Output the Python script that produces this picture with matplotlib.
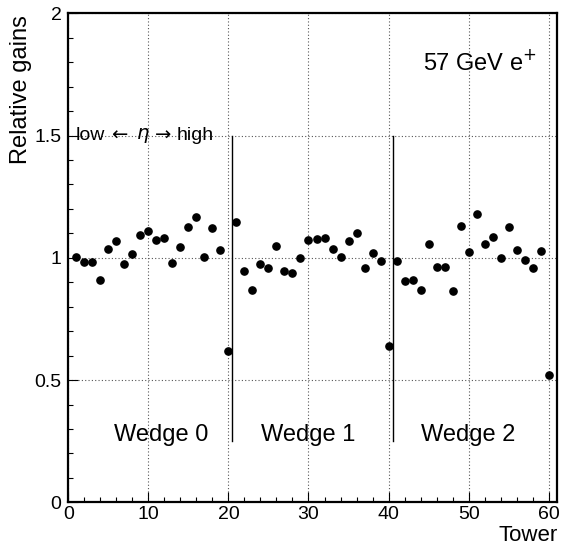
import matplotlib
matplotlib.use("Agg")
import matplotlib.pyplot as plt
from matplotlib.ticker import MultipleLocator

plt.rcParams['font.family'] = ['Liberation Sans', 'DejaVu Sans']

towers = list(range(1, 61))
gains = [
    1.004, 0.984, 0.984, 0.910, 1.037, 1.070, 0.973, 1.016, 1.092, 1.108,
    1.073, 1.082, 0.979, 1.044, 1.127, 1.166, 1.004, 1.121, 1.033, 0.619,
    1.147, 0.948, 0.870, 0.975, 0.959, 1.049, 0.948, 0.937, 1.000, 1.074,
    1.078, 1.082, 1.034, 1.003, 1.067, 1.100, 0.959, 1.021, 0.989, 0.640,
    0.985, 0.905, 0.908, 0.867, 1.058, 0.963, 0.963, 0.864, 1.130, 1.022,
    1.179, 1.055, 1.084, 1.001, 1.126, 1.030, 0.993, 0.958, 1.026, 0.521,
]
separators = [20.5, 40.5]
wedge_labels = ["Wedge 0", "Wedge 1", "Wedge 2"]
wedge_x = [11.6, 30.0, 49.9]

fig = plt.figure(figsize=(5.67, 5.45), dpi=100)
ax = fig.add_axes([0.1205, 0.0783, 0.8613, 0.8973])

ax.plot(towers, gains, 'o', color='black', markersize=5.2, zorder=3)

ax.set_xlim(0, 61)
ax.set_ylim(0, 2)
ax.xaxis.set_major_locator(MultipleLocator(10))
ax.xaxis.set_minor_locator(MultipleLocator(2))
ax.yaxis.set_minor_locator(MultipleLocator(0.1))
ax.set_yticks([0, 0.5, 1, 1.5, 2])
ax.set_yticklabels(['0', '0.5', '1', '1.5', '2'])
ax.tick_params(which='both', direction='in', top=False, right=False, labelsize=14)
ax.tick_params(axis='x', which='major', pad=3)
ax.tick_params(axis='y', which='major', pad=5)
ax.tick_params(which='major', length=7, width=0.8)
ax.tick_params(which='minor', length=3.5, width=0.8)
ax.grid(True, which='major', linestyle=(0, (1, 2)), color='#555555', linewidth=0.8)
for s in ax.spines.values():
    s.set_linewidth(1.6)

for s in separators:
    ax.plot([s, s], [0.25, 1.5], color='black', linewidth=1.0)

for lab, x in zip(wedge_labels, wedge_x):
    ax.text(x, 0.275, lab, ha='center', va='center', fontsize=17)

# low <- eta -> high annotation along the 1.5 line
ax.text(0.85, 1.5, 'low', ha='left', va='center', fontsize=14)
ax.text(6.3, 1.5, '\u2190', ha='center', va='center', fontsize=14,
        family=['DejaVu Sans'])
ax.text(9.3, 1.5, '$\\eta$', ha='center', va='center', fontsize=14)
ax.text(11.8, 1.5, '\u2192', ha='center', va='center', fontsize=14,
        family=['DejaVu Sans'])
ax.text(13.5, 1.5, 'high', ha='left', va='center', fontsize=14)

ax.text(44.3, 1.80, '57 GeV e$^{+}$', ha='left', va='center', fontsize=17)

fig.text(0.984, 4 / 545, 'Tower', ha='right', va='baseline', fontsize=16)
fig.text(0.037, 0.972, 'Relative gains', ha='center', va='top', rotation=90,
         fontsize=17)

fig.savefig('out.png', dpi=100)
